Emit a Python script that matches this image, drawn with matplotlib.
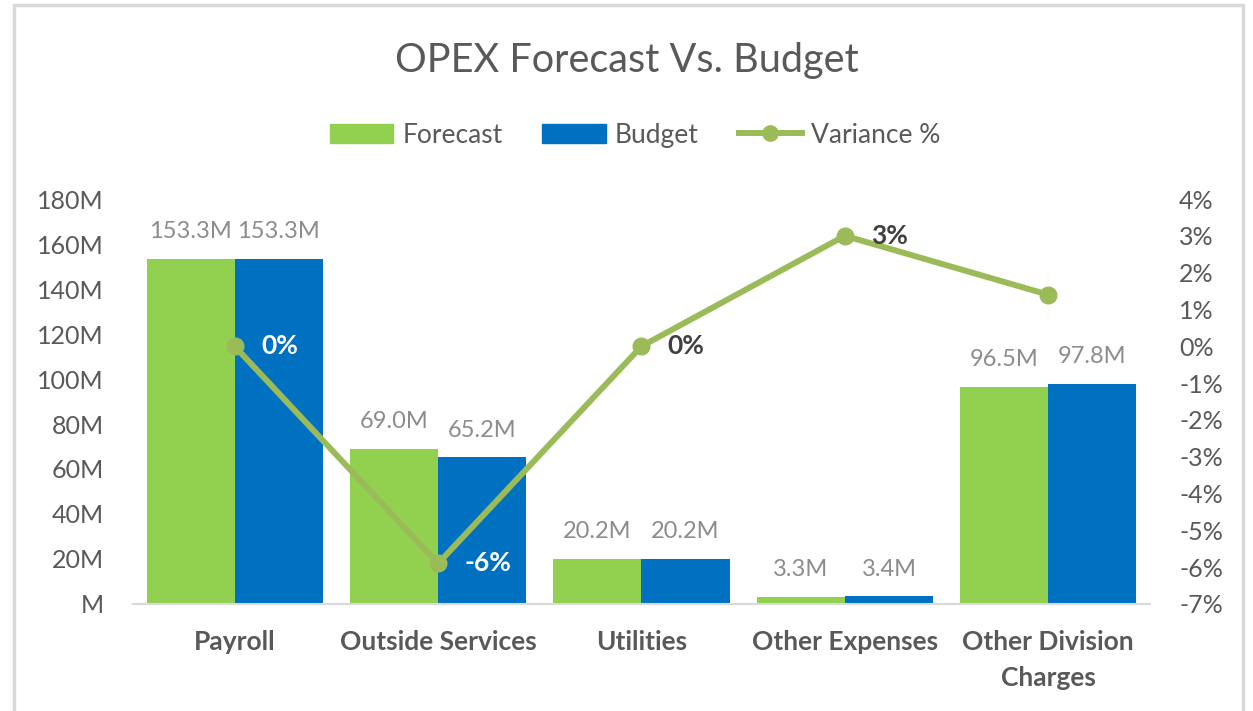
import matplotlib
matplotlib.use("Agg")
import matplotlib.pyplot as plt
from matplotlib.patches import Rectangle
from matplotlib.lines import Line2D
from matplotlib.patches import Patch
import numpy as np

plt.rcParams['font.family'] = ['Lato', 'DejaVu Sans']

# data
categories = ["Payroll", "Outside Services", "Utilities", "Other Expenses", "Other Division\nCharges"]
forecast = [153.3, 69.0, 20.2, 3.3, 96.5]
budget = [153.3, 65.2, 20.2, 3.4, 97.8]
variance = [0.0, -0.059, 0.0, 0.030, 0.014]
variance_labels = ["0%", "-6%", "0%", "3%", None]
variance_label_colors = ["white", "white", "#404040", "#404040", None]

green = "#92D050"
blue = "#0070C0"
line_green = "#9BBB59"
grey_text = "#595959"
label_grey = "#8C8C8C"

fig = plt.figure(figsize=(12.53, 7.11), dpi=100)
ax = fig.add_axes([0.1061, 0.1505, 0.8117, 0.5696])

# chart border
fig.patches.append(Rectangle((14 / 1253, -0.05), (1243 - 14) / 1253, 1.05 - 5 / 711,
                             transform=fig.transFigure, fill=False,
                             edgecolor="#D9D9D9", linewidth=2.5))

x = np.arange(len(categories))
w = 0.433
b1 = ax.bar(x - w / 2, forecast, w, color=green, label="Forecast")
b2 = ax.bar(x + w / 2, budget, w, color=blue, label="Budget")

for bars, vals in [(b1, forecast), (b2, budget)]:
    for r, v in zip(bars, vals):
        ax.annotate(f"{v:.1f}M", (r.get_x() + r.get_width() / 2, v),
                    xytext=(0, 12), textcoords="offset points",
                    ha="center", va="bottom", fontsize=17, color=label_grey)

ax.set_xlim(-0.5, len(categories) - 0.5)
ax.set_ylim(0, 180)
ax.set_yticks(np.arange(0, 181, 20))
ax.set_yticklabels([f"{v}M" if v else "M" for v in range(0, 181, 20)])
ax.set_xticks(x)
ax.set_xticklabels(categories, fontsize=19, fontweight="bold", color=grey_text,
                   linespacing=1.6)
ax.tick_params(axis="x", length=0, pad=19)
ax.tick_params(axis="y", length=0, labelsize=18, labelcolor=grey_text, pad=21)
for s in ["top", "left", "right"]:
    ax.spines[s].set_visible(False)
ax.spines["bottom"].set_color("#D9D9D9")
ax.spines["bottom"].set_linewidth(1.5)

ax2 = ax.twinx()
ax2.plot(x, variance, color=line_green, linewidth=4.3, marker="o", markersize=12,
         solid_capstyle="round")
ax2.set_ylim(-0.07, 0.04)
ticks = np.arange(-7, 5)
ax2.set_yticks(ticks / 100)
ax2.set_yticklabels([f"{t}%" for t in ticks])
ax2.tick_params(axis="y", length=0, labelsize=18, labelcolor=grey_text, pad=21)
for s in ["top", "left", "right", "bottom"]:
    ax2.spines[s].set_visible(False)

for xi, v, lab, c in zip(x, variance, variance_labels, variance_label_colors):
    if lab:
        ax2.annotate(lab, (xi, v), xytext=(19, 0), textcoords="offset points",
                     ha="left", va="center", fontsize=19, fontweight="bold", color=c)

fig.text(0.5, 0.915, "OPEX Forecast Vs. Budget", ha="center", va="center",
         fontsize=28.5, color=grey_text)

handles = [Patch(color=green), Patch(color=blue),
           Line2D([], [], color=line_green, linewidth=4.3, marker="o", markersize=11)]
fig.legend(handles, ["Forecast", "Budget", "Variance %"], loc="center",
           bbox_to_anchor=(0.507, 0.81), ncol=3, frameon=False, fontsize=19,
           labelcolor=grey_text, handlelength=2.4, handletextpad=0.35, columnspacing=1.5)

fig.savefig("out.png", dpi=100)
